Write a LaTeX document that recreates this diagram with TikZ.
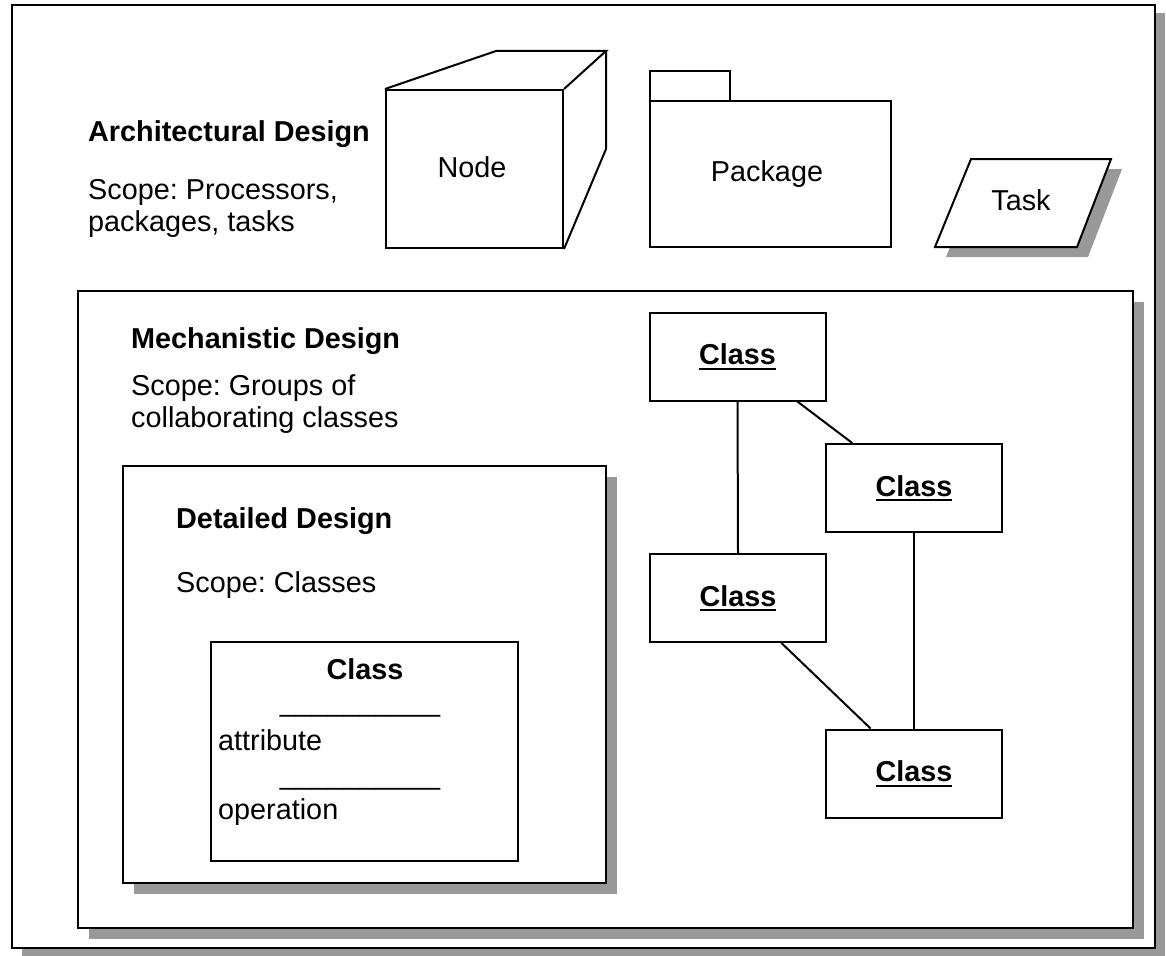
\documentclass[tikz,border=0pt]{standalone}
\usepackage{fontspec}
\setmainfont{Liberation Sans}
\usetikzlibrary{calc,shadows}
\definecolor{shadowgray}{HTML}{999999}
\frenchspacing
\newcommand\myul[1]{\setbox0\hbox{#1}\rlap{\rule[-5pt]{\wd0}{2pt}}\box0}
\tikzset{
  txt/.style={font=\fontsize{28.8pt}{32pt}\selectfont\frenchspacing, inner sep=0pt},
  btxt/.style={font=\fontsize{28.8pt}{32pt}\selectfont\bfseries\frenchspacing, inner sep=0pt},
  lbl/.style={txt, anchor=base west},
  blbl/.style={btxt, anchor=base west},
  frame/.style={draw=black, line width=2pt, fill=white, rectangle, inner sep=0pt},
  shad/.style={drop shadow={shadow xshift=11pt, shadow yshift=-11pt, fill=shadowgray, opacity=1}},
  cls/.style={frame, btxt, minimum width=176pt, minimum height=88pt, text height=21pt, text depth=5pt},
  shape3d/.style={draw=black, line width=2pt, line join=miter},
  link/.style={line width=2pt}
}
\begin{document}
\begin{tikzpicture}[x=1pt,y=-1pt]
\useasboundingbox (0,0) rectangle (1166,955);
\begin{scope}
\clip (0,0) rectangle (1166,955);
% outer frame
\node[frame, line width=2.5pt, drop shadow={shadow xshift=10pt, shadow yshift=-8pt, fill=shadowgray, opacity=1}, minimum width=1143pt, minimum height=943pt] (outer) at (583.5,476.5) {};
\end{scope}

% architectural design
\node[blbl] (archT) at (88,141) {Architectural Design};
\node[lbl] (archS1) at (88,199) {Scope: Processors,};
\node[lbl] (archS2) at (88,231) {packages, tasks};

% cube (Node)
\node[frame, minimum width=177pt, minimum height=158pt] (cube) at (474.5,169) {};
\coordinate (cbl) at (496,51);
\coordinate (cbr) at (606,51);
\coordinate (cbb) at (606,149);
\draw[shape3d] (cube.north west) -- (cbl) -- (cbr) -- (cube.north east);
\draw[shape3d] (cbr) -- (cbb) -- (cube.south east);
\node[txt, anchor=base] (cubeT) at (472,177) {Node};

% package
\node[frame, minimum width=80pt, minimum height=30pt] (ptab) at (690,86) {};
\node[frame, minimum width=241pt, minimum height=146pt] (pkg) at (770.5,174) {};
\node[txt, anchor=base] (pkgT) at (767,181) {Package};

% task
\coordinate (t1) at (971,159);
\coordinate (t2) at (1111,159);
\coordinate (t3) at (1077,247);
\coordinate (t4) at (935,247);
\fill[shadowgray] ($(t1)+(11,10)$) -- ($(t2)+(11,10)$) -- ($(t3)+(11,10)$) -- ($(t4)+(11,10)$) -- cycle;
\draw[shape3d, fill=white] (t1) -- (t2) -- (t3) -- (t4) -- cycle;
\node[txt, anchor=base] (taskT) at (1021,210) {Task};

% mechanistic design
\node[frame, shad, minimum width=1055pt, minimum height=637pt] (mech) at (605.5,609.5) {};
\node[blbl] (mechT) at (131,348) {Mechanistic Design};
\node[lbl] (mechS1) at (131,395) {Scope: Groups of};
\node[lbl] (mechS2) at (131,427) {collaborating classes};

% detailed design
\node[frame, shad, minimum width=483pt, minimum height=417pt] (det) at (364.5,674.5) {};
\node[blbl] (detT) at (176,528) {Detailed Design};
\node[lbl] (detS) at (176,592) {Scope: Classes};

\node[frame, minimum width=307pt, minimum height=219pt] (icls) at (364.5,751.5) {};
\node[btxt, anchor=base] (iclsT) at (365,679) {Class};
\node[txt, anchor=base] (isep1) at (360,711) {\_\_\_\_\_\_\_\_\_\_};
\node[lbl] (iattr) at (218,750) {attribute};
\node[txt, anchor=base] (isep2) at (360,784) {\_\_\_\_\_\_\_\_\_\_};
\node[lbl] (iop) at (218,819) {operation};

% class collaboration
\node[cls] (c1) at (737.5,356.5) {\myul{Class}};
\node[cls] (c2) at (914,488) {\myul{Class}};
\node[cls] (c3) at (738,598) {\myul{Class}};
\node[cls] (c4) at (914,773.5) {\myul{Class}};

\draw[link] (c1.south) -- (c3.north);
\draw[link] ($(c1.south west)!0.836!(c1.south east)$) -- ($(c2.north west)!0.153!(c2.north east)$);
\draw[link] (c2.south) -- (c4.north);
\draw[link] ($(c3.south west)!0.744!(c3.south east)$) -- ($(c4.north west)!0.256!(c4.north east)$);
\end{tikzpicture}
\end{document}
